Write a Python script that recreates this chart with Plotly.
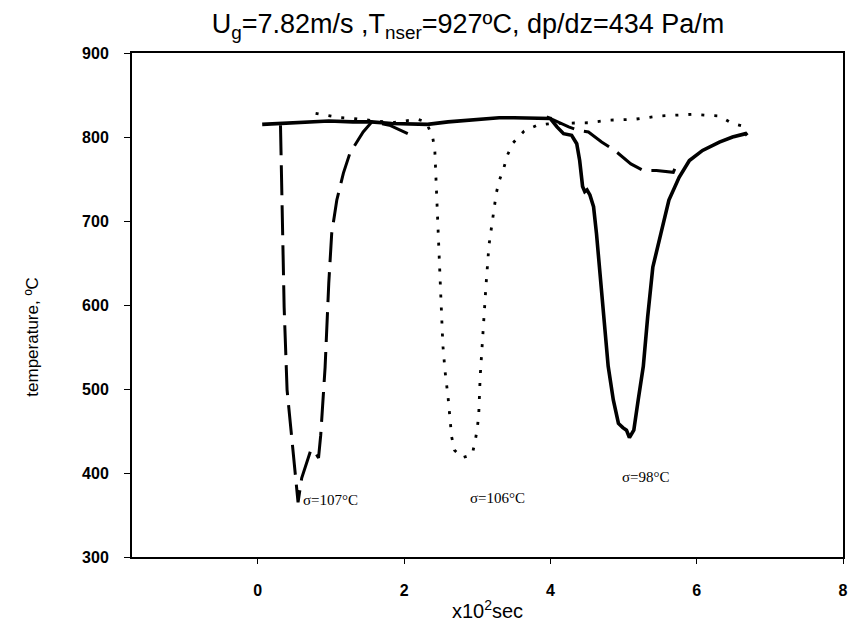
import plotly.graph_objects as go

# solid curve (dip near 5 x10^2 s)
solid_x = [0.06, 0.3, 0.6, 0.97, 1.3, 1.55, 1.83, 2.05, 2.32, 2.6, 2.9, 3.3, 3.5, 3.8, 4.0, 4.09, 4.18, 4.29, 4.36, 4.40, 4.44, 4.47, 4.50, 4.54, 4.59, 4.63, 4.67, 4.70, 4.74, 4.79, 4.86, 4.93, 4.99, 5.04, 5.08, 5.14, 5.20, 5.27, 5.33, 5.40, 5.51, 5.62, 5.76, 5.90, 6.08, 6.31, 6.49, 6.67, 6.69]
solid_y = [815, 816, 818, 819, 818, 818, 816, 816, 815, 818, 820, 823, 823, 823, 822, 812, 804, 802, 792, 772, 741, 735, 737, 731, 717, 685, 645, 606, 566, 527, 487, 459, 454, 451, 442, 451, 487, 527, 586, 645, 685, 725, 752, 772, 784, 794, 800, 804, 802]

# dashed curve (deep dip near 0.5, shallow dip near 5)
dash_x = [0.31, 0.334, 0.36, 0.40, 0.47, 0.52, 0.55, 0.60, 0.72, 0.76, 0.83, 0.86, 0.92, 0.97, 1.01, 1.08, 1.17, 1.26, 1.44, 1.56, 1.8, 2.05,
          None,
          3.95, 4.1, 4.25, 4.38, 4.52, 4.70, 4.88, 5.1, 5.27, 5.45, 5.68, 5.70]
dash_y = [814, 685, 597, 499, 439, 392, 365, 394, 426, 428, 418, 445, 526, 626, 685, 725, 757, 781, 806, 818, 814, 804,
          None,
          824, 818, 812, 808, 806, 794, 784, 768, 760, 760, 758, 762]

# dotted curve (dip near 2.8)
dot_x = [0.79, 0.94, 1.13, 1.31, 1.49, 1.67, 1.83, 2.0, 2.19, 2.3, 2.39, 2.42, 2.44, 2.47, 2.50, 2.53, 2.56, 2.60, 2.63, 2.65, 2.69, 2.79, 2.93, 2.97, 3.0, 3.02, 3.04, 3.06, 3.09, 3.12, 3.16, 3.21, 3.26, 3.30, 3.36, 3.41, 3.49, 3.64, 3.82, 4.0, 4.3, 4.52, 4.79, 5.14, 5.49, 5.78, 5.94, 6.12, 6.31, 6.49, 6.67]
dot_y = [828, 826, 823, 822, 820, 818, 817, 819, 821, 818, 800, 784, 737, 677, 614, 552, 521, 491, 459, 443, 427, 418, 422, 437, 453, 469, 515, 546, 593, 624, 671, 701, 733, 748, 762, 778, 793, 807, 814, 816, 817, 817, 820, 821, 825, 826, 827, 826, 825, 816, 812]

x_ticks = [0, 2, 4, 6, 8]
y_ticks = [300, 400, 500, 600, 700, 800, 900]

labels = ["σ=107°C", "σ=106°C", "σ=98°C"]
label_x = [0.99, 3.27, 5.31]
label_y = [368, 370, 395]

SANS = "Liberation Sans, Arial, sans-serif"

fig = go.Figure()
fig.add_trace(go.Scatter(x=dot_x, y=dot_y, mode="lines",
                         line=dict(color="black", width=2.8, dash="3px,10px"),
                         showlegend=False, hoverinfo="skip"))
fig.add_trace(go.Scatter(x=dash_x, y=dash_y, mode="lines",
                         line=dict(color="black", width=3, dash="30px,10px"),
                         connectgaps=False, showlegend=False, hoverinfo="skip"))
fig.add_trace(go.Scatter(x=solid_x, y=solid_y, mode="lines",
                         line=dict(color="black", width=3.6),
                         showlegend=False, hoverinfo="skip"))

for t, lx, ly in zip(labels, label_x, label_y):
    fig.add_annotation(x=lx, y=ly, xref="x", yref="y", text=t, showarrow=False,
                       font=dict(family="Liberation Serif, Times New Roman, serif", size=15, color="black"))

# y-axis title (placed a bit below the plot centre, as in the reference)
fig.add_annotation(x=(31 - 132) / (852 - 132 - 4), y=(630 - 73 - 337) / (630 - 53 - 73),
                   xref="paper", yref="paper", xanchor="center", yanchor="middle",
                   text="temperature, ºC", showarrow=False, textangle=-90,
                   font=dict(family=SANS, size=17, color="black"))

fig.update_layout(
    width=852, height=630,
    margin=dict(l=132, r=4, t=53, b=73),
    paper_bgcolor="white", plot_bgcolor="white",
    title=dict(text="U<sub>g</sub>=7.82m/s ,T<sub>nser</sub>=927ºC, dp/dz=434 Pa/m",
               x=468 / 852, xref="container", xanchor="center",
               y=1 - 24 / 630, yref="container", yanchor="middle",
               font=dict(family=SANS, size=27, color="black")),
    xaxis=dict(range=[-1.72, 8], tickvals=x_ticks, ticktext=[str(v) for v in x_ticks],
               showgrid=False, zeroline=False, showline=True, mirror=True,
               linecolor="black", linewidth=2, ticks="outside", ticklen=5, tickcolor="black",
               tickfont=dict(family=SANS, size=16, color="black", weight="bold"),
               ticklabelstandoff=13,
               title=dict(text="x10<sup>2</sup>sec", standoff=6,
                          font=dict(family=SANS, size=20, color="black"))),
    yaxis=dict(range=[300, 900], tickvals=y_ticks, ticktext=[str(v) for v in y_ticks],
               showgrid=False, zeroline=False, showline=True, mirror=True,
               linecolor="black", linewidth=2, ticks="outside", ticklen=6, tickcolor="black",
               tickfont=dict(family=SANS, size=16, color="black", weight="bold"),
               ticklabelstandoff=12),
)

fig.write_html("out.html")
